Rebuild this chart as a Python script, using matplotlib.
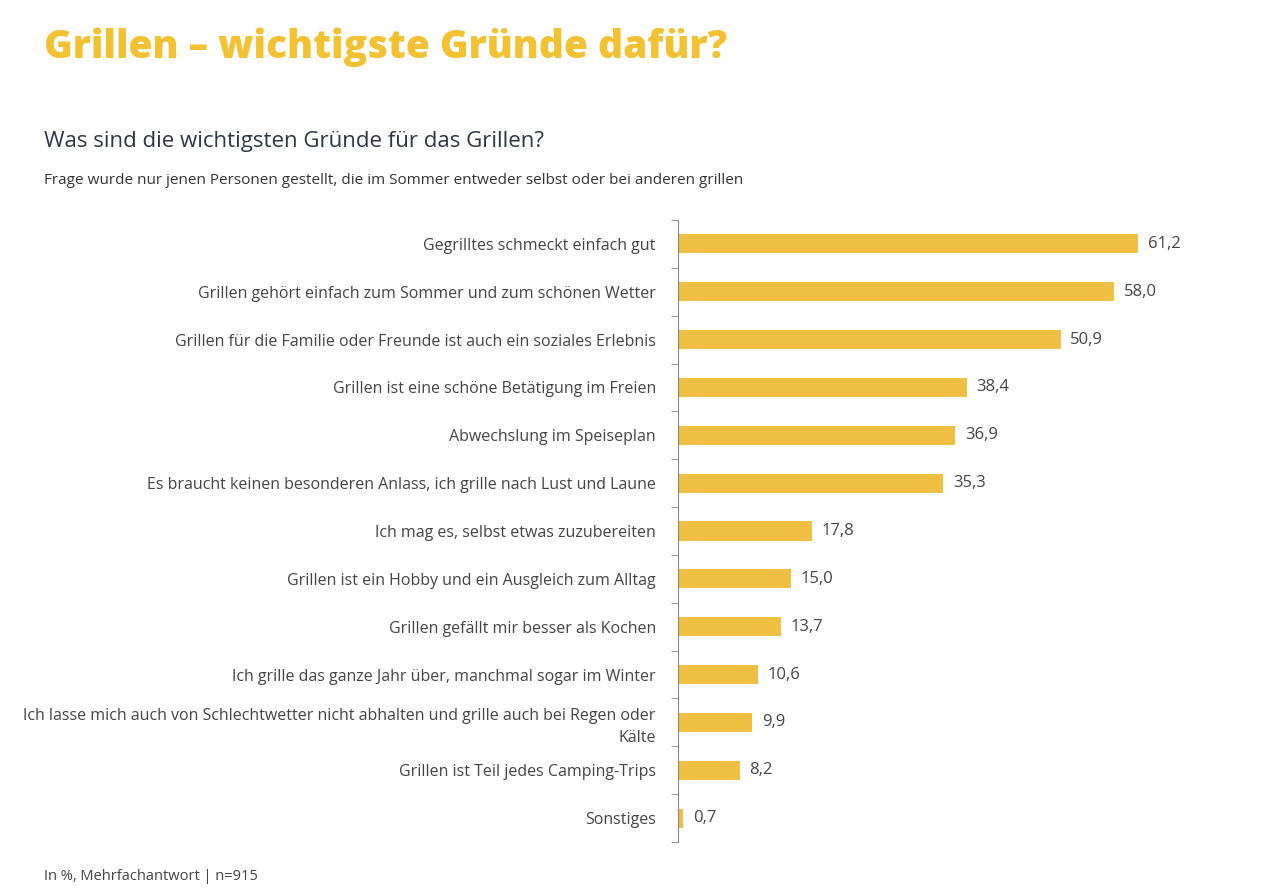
import matplotlib
matplotlib.use("Agg")
import matplotlib.pyplot as plt
from matplotlib.ticker import FixedLocator

categories = [
    "Gegrilltes schmeckt einfach gut",
    "Grillen gehört einfach zum Sommer und zum schönen Wetter",
    "Grillen für die Familie oder Freunde ist auch ein soziales Erlebnis",
    "Grillen ist eine schöne Betätigung im Freien",
    "Abwechslung im Speiseplan",
    "Es braucht keinen besonderen Anlass, ich grille nach Lust und Laune",
    "Ich mag es, selbst etwas zuzubereiten",
    "Grillen ist ein Hobby und ein Ausgleich zum Alltag",
    "Grillen gefällt mir besser als Kochen",
    "Ich grille das ganze Jahr über, manchmal sogar im Winter",
    "Ich lasse mich auch von Schlechtwetter nicht abhalten und grille auch bei Regen oder\nKälte",
    "Grillen ist Teil jedes Camping-Trips",
    "Sonstiges",
]
values = [61.2, 58.0, 50.9, 38.4, 36.9, 35.3, 17.8, 15.0, 13.7, 10.6, 9.9, 8.2, 0.7]

plt.rcParams['font.family'] = ['Open Sans', 'DejaVu Sans']
fig = plt.figure(figsize=(12.8, 8.91), dpi=100)
ax = fig.add_axes([678/1280, 1-842/891, 1-678/1280, (842-220)/891])
bar_color = "#EFC043"
y = list(range(len(values)))
ax.barh(y, values, height=0.4, color=bar_color)
ax.set_ylim(len(values)-0.5, -0.5)
ax.set_xlim(0, (1280-678)/7.516)
for yi, v in zip(y, values):
    ax.text(v + 1.3, yi, f"{v:.1f}".replace(".", ","), va="center", ha="left",
            fontsize=12, color="#444444")
ax.set_yticks(y)
ax.set_yticklabels(categories, fontsize=11.5, color="#444444", ha="right", linespacing=1.5)
ax.tick_params(axis="y", which="major", length=0, pad=16)
ax.yaxis.set_minor_locator(FixedLocator([i - 0.5 for i in range(len(values)+1)]))
ax.tick_params(axis="y", which="minor", length=5, color="#888888", direction="out")
ax.set_xticks([])
for s in ["top", "right", "bottom"]:
    ax.spines[s].set_visible(False)
ax.spines["left"].set_color("#888888")

fig.text(44/1280, 1-47/891, "Grillen – wichtigste Gründe dafür?", fontsize=28,
         fontweight="heavy", color="#F2C232", va="center")
fig.text(44/1280, 1-141/891, "Was sind die wichtigsten Gründe für das Grillen?",
         fontsize=16, color="#2E3545", va="center")
fig.text(44/1280, 1-181/891,
         "Frage wurde nur jenen Personen gestellt, die im Sommer entweder selbst oder bei anderen grillen",
         fontsize=11, color="#333333", va="center")
fig.text(44/1280, 1-877/891, "In %, Mehrfachantwort | n=915", fontsize=10.5,
         color="#444444", va="center")
fig.savefig("out.png", dpi=100)
